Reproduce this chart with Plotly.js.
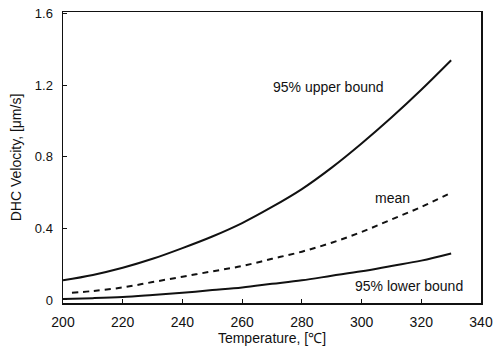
<!DOCTYPE html>
<html>
<head>
<meta charset="utf-8">
<script src="https://cdn.plot.ly/plotly-3.0.1.min.js"></script>
<style>html,body{margin:0;padding:0;background:#fff;}#chart{width:493px;height:352px;}</style>
</head>
<body>
<div id="chart"></div>
<script>
const temps = [200, 210, 220, 230, 240, 250, 260, 270, 280, 290, 300, 310, 320, 330];
const upperBound = [0.11, 0.14, 0.18, 0.23, 0.29, 0.355, 0.43, 0.52, 0.62, 0.74, 0.875, 1.02, 1.175, 1.34];
const meanTemps = [203, 210, 220, 230, 240, 250, 260, 270, 280, 290, 300, 310, 320, 330];
const meanVals = [0.04, 0.05, 0.07, 0.10, 0.13, 0.16, 0.19, 0.23, 0.27, 0.32, 0.38, 0.45, 0.52, 0.60];
const lowerBound = [0.005, 0.01, 0.017, 0.028, 0.04, 0.055, 0.07, 0.09, 0.11, 0.135, 0.16, 0.19, 0.22, 0.26];
const xTicks = [200, 220, 240, 260, 280, 300, 320, 340];
const yTicks = [0, 0.4, 0.8, 1.2, 1.6];
const yTickText = ["0", "0.4", "0.8", "1.2", "1.6"];
const labels = ["95% upper bound", "mean", "95% lower bound"];
const labelX = [289, 310.5, 316];
const labelY = [1.19, 0.57, 0.078];

const font = {family: "Arial, 'Liberation Sans', sans-serif", color: "#111", size: 13};
const traces = [
  {x: temps, y: upperBound, mode: "lines", line: {color: "#111", width: 2, shape: "spline"}},
  {x: meanTemps, y: meanVals, mode: "lines", line: {color: "#111", width: 2, dash: "6px,5px", shape: "spline"}},
  {x: temps, y: lowerBound, mode: "lines", line: {color: "#111", width: 2, shape: "spline"}}
];
const annotations = labels.map((t, i) => ({
  x: labelX[i], y: labelY[i], xref: "x", yref: "y", text: t, showarrow: false,
  font: {family: font.family, size: 14, color: "#111"}
}));
const layout = {
  width: 493, height: 352,
  margin: {l: 63, r: 12, t: 12, b: 49},
  paper_bgcolor: "#fff", plot_bgcolor: "#fff",
  showlegend: false,
  font: font,
  xaxis: {
    range: [200, 340], tickvals: xTicks, ticks: "inside", ticklen: 4, tickcolor: "#111",
    showline: true, linecolor: "#111", linewidth: 1.5, mirror: true, showgrid: false, zeroline: false,
    ticklabelstandoff: 6,
    tickfont: {family: font.family, size: 14, color: "#111"},
    title: {text: "Temperature, [℃]", standoff: 0, font: {family: font.family, size: 14, color: "#111"}}
  },
  yaxis: {
    range: [-0.017, 1.61], tickvals: yTicks, ticktext: yTickText, ticks: "inside", ticklen: 4, tickcolor: "#111",
    showline: true, linecolor: "#111", linewidth: 1.5, mirror: true, showgrid: false, zeroline: false,
    ticklabelstandoff: 6,
    tickfont: {family: font.family, size: 13, color: "#111"},
    title: {text: "DHC Velocity, [μm/s]", standoff: 10, font: {family: font.family, size: 14, color: "#111"}}
  },
  annotations: annotations
};
Plotly.newPlot("chart", traces, layout, {displayModeBar: false, staticPlot: true});
</script>
</body>
</html>
